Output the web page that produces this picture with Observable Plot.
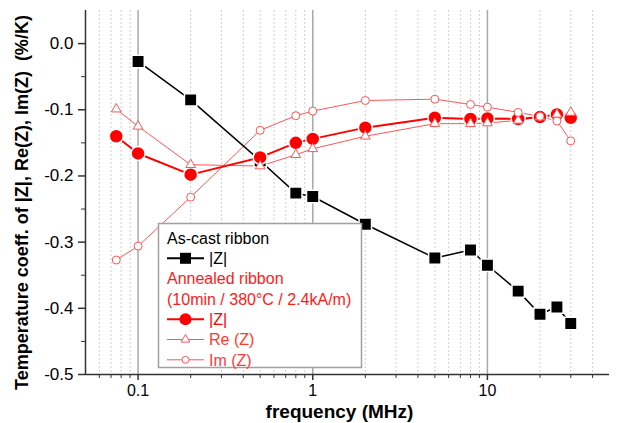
<!DOCTYPE html>
<html><head><meta charset="utf-8">
<script src="https://cdn.jsdelivr.net/npm/d3@7"></script>
<script src="https://cdn.jsdelivr.net/npm/@observablehq/plot@0.6"></script>
<style>
body{margin:0;background:#fff;}
#wrap{width:617px;height:423px;}
</style></head><body><div id="wrap"></div>
<script>
// ---- data ----
const freq = [0.075, 0.1, 0.2, 0.5, 0.8, 1, 2, 5, 8, 10, 15, 20, 25, 30];
const asCastFreq = [0.1, 0.2, 0.5, 0.8, 1, 2, 5, 8, 10, 15, 20, 25, 30];
const asCastZ = [-0.027, -0.085, -0.177, -0.226, -0.231, -0.273, -0.324, -0.312, -0.335, -0.374, -0.409, -0.398, -0.423];
const annealedZ = [-0.140, -0.166, -0.198, -0.172, -0.150, -0.144, -0.127, -0.112, -0.114, -0.113, -0.114, -0.111, -0.107, -0.112];
const annealedRe = [-0.099, -0.125, -0.183, -0.185, -0.168, -0.159, -0.140, -0.121, -0.121, -0.120, -0.116, -0.111, -0.107, -0.104];
const annealedIm = [-0.327, -0.306, -0.232, -0.131, -0.109, -0.102, -0.086, -0.084, -0.092, -0.096, -0.104, -0.110, -0.117, -0.147];
const majorX = [0.1, 1, 10];
const minorX = [0.06, 0.07, 0.08, 0.09, 0.2, 0.3, 0.4, 0.5, 0.6, 0.7, 0.8, 0.9, 2, 3, 4, 5, 6, 7, 8, 9, 20, 30, 40];
const majorY = [-0.5, -0.4, -0.3, -0.2, -0.1, 0.0];
const minorY = [-0.45, -0.35, -0.25, -0.15, -0.05];
const xTitle = "frequency (MHz)";
const yTitle = "Temperature coeff. of |Z|, Re(Z), Im(Z)  (%/K)";
const legendRows = [
  {text: "As-cast ribbon", color: "#000", sym: null},
  {text: "|Z|", color: "#000", sym: "square"},
  {text: "Annealed ribbon", color: "#ff1a1a", sym: null},
  {text: "(10min / 380\u00b0C / 2.4kA/m)", color: "#ff1a1a", sym: null},
  {text: "|Z|", color: "#ff0000", sym: "fcircle"},
  {text: "Re (Z)", color: "#ff3b2f", sym: "triangle"},
  {text: "Im (Z)", color: "#ff3b3b", sym: "ocircle"}
];

const toRows = (xs, ys) => xs.map((x, i) => ({x, y: ys[i]}));
const black = toRows(asCastFreq, asCastZ);
const redZ = toRows(freq, annealedZ);
const redRe = toRows(freq, annealedRe);
const redIm = toRows(freq, annealedIm);

const FONT = "Liberation Sans, Arial, Helvetica, sans-serif";
const light = "#ff5555";

const chart = Plot.plot({
  width: 617, height: 423,
  marginLeft: 85, marginTop: 10, marginRight: 8, marginBottom: 49,
  x: {type: "log", domain: [0.05, 50]},
  y: {domain: [-0.5, 0.05]},
  style: {fontFamily: FONT, background: "#fff", color: "#000"},
  marks: [
    Plot.ruleX(minorX, {stroke: "#d0d0d0", strokeWidth: 1, strokeDasharray: "2,2"}),
    Plot.ruleX(majorX, {stroke: "#a8a8a8", strokeWidth: 1.5}),
    Plot.axisX(majorX, {tickSize: 6, tickPadding: 4, tickFormat: d => String(d), fontSize: 16, label: null, stroke: "#333", strokeWidth: 1.5}),
    Plot.axisX(minorX, {tickSize: 4, tickFormat: () => "", label: null, stroke: "#333", strokeWidth: 1}),
    Plot.axisY(majorY, {tickSize: 7, tickPadding: 5, tickFormat: d => d.toFixed(1), fontSize: 17, label: null, stroke: "#333", strokeWidth: 1.5}),
    Plot.axisY(minorY, {tickSize: 4, tickFormat: () => "", label: null, stroke: "#333", strokeWidth: 1}),
    Plot.ruleX([0.05], {stroke: "#333", strokeWidth: 1.5}),
    Plot.ruleY([-0.5], {stroke: "#333", strokeWidth: 1.5}),
    // Im(Z) & Re(Z) lines
    Plot.line(redIm, {x: "x", y: "y", stroke: light, strokeWidth: 1}),
    Plot.line(redRe, {x: "x", y: "y", stroke: light, strokeWidth: 1}),
    // as-cast |Z|
    Plot.line(black, {x: "x", y: "y", stroke: "#000", strokeWidth: 1.5}),
    Plot.dot(black, {x: "x", y: "y", symbol: "square", r: 7, fill: "#000", stroke: "#fff", strokeWidth: 1.5}),
    // annealed |Z|
    Plot.line(redZ, {x: "x", y: "y", stroke: "#ff0000", strokeWidth: 2}),
    Plot.dot(redZ, {x: "x", y: "y", symbol: "circle", r: 7, fill: "#ff0000", stroke: "#fff", strokeWidth: 1.5}),
    // open markers
    Plot.dot(redRe, {x: "x", y: "y", symbol: "triangle", r: 3.6, fill: "#fff", stroke: light, strokeWidth: 1}),
    Plot.dot(redIm, {x: "x", y: "y", symbol: "circle", r: 4, fill: "#fff", stroke: light, strokeWidth: 1}),
    // axis titles
    Plot.text([xTitle], {frameAnchor: "bottom", dx: -8, dy: 37, lineAnchor: "middle", fontSize: 19, fontWeight: "bold", fill: "#000"}),
    Plot.text([yTitle], {frameAnchor: "left", dx: -63, dy: 10, rotate: -90, lineAnchor: "middle", textAnchor: "middle", fontSize: 18, fontWeight: "bold", fill: "#000"})
  ]
});
document.getElementById("wrap").appendChild(chart);

// ---- legend (inside the plot area, drawn over the data) ----
const svg = d3.select(chart);
const lg = svg.append("g").attr("font-family", FONT).attr("font-size", 16).attr("text-anchor", "start");
const bx = 158.5, by = 223.5, bw = 203, bh = 144;
lg.append("rect").attr("x", bx).attr("y", by).attr("width", bw).attr("height", bh)
  .attr("fill", "#fff").attr("stroke", "#a0a0a0").attr("stroke-width", 1.5);
const rowY0 = 238, rowStep = 20.3;
legendRows.forEach((r, i) => {
  const cy = rowY0 + i * rowStep;
  const tx = r.sym ? 209 : 167;
  if (r.sym) {
    const lc = r.sym === "square" ? "#000" : (r.sym === "fcircle" ? "#ff0000" : light);
    const lw = r.sym === "triangle" || r.sym === "ocircle" ? 1 : 2;
    lg.append("line").attr("x1", 167).attr("x2", 204).attr("y1", cy).attr("y2", cy).attr("stroke", lc).attr("stroke-width", lw);
    const cx = 185.5;
    if (r.sym === "square") lg.append("rect").attr("x", cx - 5.5).attr("y", cy - 5.5).attr("width", 11).attr("height", 11).attr("fill", "#000");
    if (r.sym === "fcircle") lg.append("circle").attr("cx", cx).attr("cy", cy).attr("r", 6).attr("fill", "#ff0000");
    if (r.sym === "ocircle") lg.append("circle").attr("cx", cx).attr("cy", cy).attr("r", 3.5).attr("fill", "#fff").attr("stroke", light);
    if (r.sym === "triangle") lg.append("path").attr("d", d3.symbol(d3.symbolTriangle, 34)()).attr("transform", `translate(${cx},${cy})`).attr("fill", "#fff").attr("stroke", light);
  }
  lg.append("text").attr("x", tx).attr("y", cy).attr("dy", "0.36em").attr("text-anchor", "start").attr("fill", r.color).text(r.text);
});
</script>
</body></html>
